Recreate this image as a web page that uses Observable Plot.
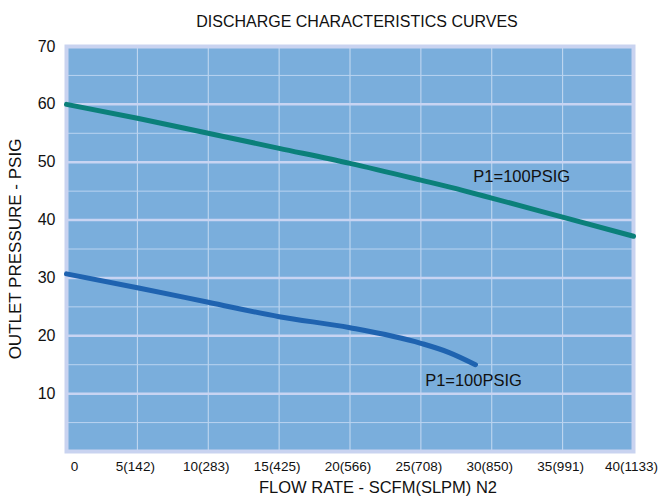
<!DOCTYPE html>
<html><head><meta charset="utf-8">
<script src="https://cdn.jsdelivr.net/npm/d3@7"></script>
<script src="https://cdn.jsdelivr.net/npm/@observablehq/plot@0.6"></script>
<style>body{margin:0;background:#fff;font-family:"Liberation Sans",Arial,sans-serif}</style>
</head><body><div id="chart"></div>
<script>
const title = "DISCHARGE CHARACTERISTICS CURVES";
const xLabel = "FLOW RATE - SCFM(SLPM) N2";
const yLabel = "OUTLET PRESSURE - PSIG";
const xTicks = [0,5,10,15,20,25,30,35,40];
const xTickLabels = ["0","5(142)","10(283)","15(425)","20(566)","25(708)","30(850)","35(991)","40(1133)"];
const yTicks = [10,20,30,40,50,60,70];
const yMinorGrid = [5,15,25,35,45,55,65];
const upperFlow = [0,5,10,15,20,25,28,30,35,40];
const upperPressure = [60,57.6,55.0,52.4,49.8,46.9,45.1,43.8,40.5,37.2];
const lowerFlow = [0,5,10,15,20,25,27,28.85];
const lowerPressure = [30.7,28.3,25.8,23.3,21.4,18.7,17.1,15.0];
const labelText = ["P1=100PSIG","P1=100PSIG"];
const labelX = [28.7,25.3];
const labelY = [47.5,12.3];

const upper = upperFlow.map((x,i)=>({x,y:upperPressure[i]}));
const lower = lowerFlow.map((x,i)=>({x,y:lowerPressure[i]}));
const labels = labelText.map((t,i)=>({t,x:labelX[i],y:labelY[i]}));
const fmt = d => xTickLabels[xTicks.indexOf(d)];

const chart = Plot.plot({
  width:663, height:501,
  marginLeft:66, marginRight:30, marginTop:46, marginBottom:50,
  style:{fontFamily:"Liberation Sans, Arial, sans-serif", background:"#fff"},
  x:{domain:[0,40]},
  y:{domain:[0,70]},
  marks:[
    Plot.frame({fill:"#7aaedc"}),
    Plot.ruleX(xTicks.slice(1,-1),{stroke:"#c6dbf2",strokeWidth:1}),
    Plot.ruleY(yMinorGrid,{stroke:"#b9d3f0",strokeWidth:1}),
    Plot.ruleY(yTicks.slice(0,-1),{stroke:"#c8d4f2",strokeWidth:2.5}),
    Plot.frame({stroke:"#c9d3f0",strokeWidth:4}),
    Plot.line(upper,{x:"x",y:"y",stroke:"#0b807a",strokeWidth:5,curve:"monotone-x"}),
    Plot.line(lower,{x:"x",y:"y",stroke:"#1f63b0",strokeWidth:5,curve:"monotone-x",strokeLinecap:"round"}),
    Plot.text(labels,{x:"x",y:"y",text:"t",textAnchor:"start",fontSize:16.5,fill:"#111"}),
    Plot.axisX(xTicks.slice(0,1),{tickSize:0,tickPadding:10,fontSize:13.5,fill:"#111",label:null,dx:8,tickFormat:fmt}),
    Plot.axisX(xTicks.slice(1),{tickSize:0,tickPadding:10,fontSize:13.5,fill:"#111",label:null,dx:-2,tickFormat:fmt}),
    Plot.axisY(yTicks,{tickSize:0,tickPadding:11,fontSize:16,fill:"#111",label:null}),
    Plot.text([xLabel],{frameAnchor:"bottom",dy:41,dx:28,fontSize:16.5,fill:"#111"}),
    Plot.text([yLabel],{frameAnchor:"left",textAnchor:"middle",dx:-51,rotate:-90,fontSize:17,fill:"#111"}),
    Plot.text([title],{frameAnchor:"top",dy:-31,dx:7,fontSize:16,fill:"#111"})
  ]
});
document.getElementById("chart").appendChild(chart);
</script></body></html>
